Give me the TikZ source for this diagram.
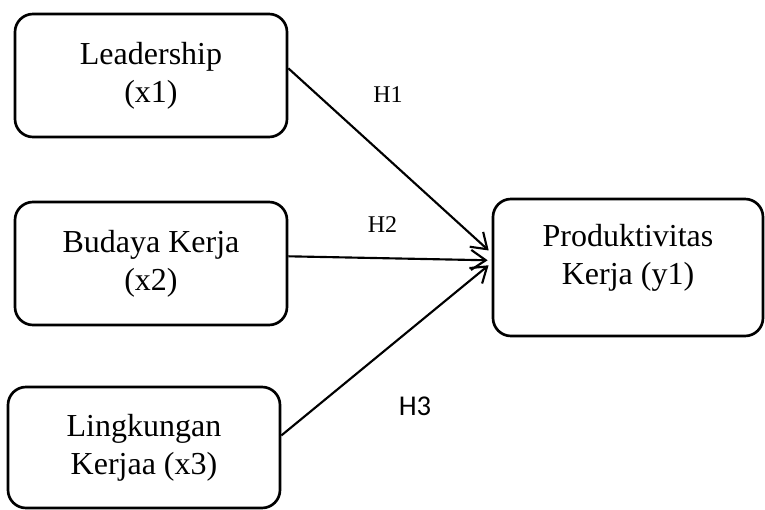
\documentclass[tikz,border=0pt]{standalone}
\usepackage{fontspec}
\setmainfont{Liberation Serif}
\newfontfamily\calibrifont{Carlito}
\usetikzlibrary{arrows.meta,positioning,calc}
\tikzset{
  varbox/.style = {draw, line width=2pt, rectangle, rounded corners=13.5pt,
                   minimum width=204pt, align=center,
                   font=\fontsize{24}{28.5}\selectfont},
  sig/.style    = {-{Straight Barb[length=11pt,width=15pt]}, line width=1.6pt,
                   shorten >=3pt},
  hyp/.style    = {font=\fontsize{18}{20}\selectfont},
}

\begin{document}
\begin{tikzpicture}[x=0.75pt,y=-0.75pt]
\useasboundingbox (0,0) rectangle (765,510);
% ---- independent variables ----
\node[varbox, minimum height=92.25pt] (lead) at (151,75.5) {Leadership\\(x1)};
\node[varbox, minimum height=92.25pt] (budaya) at (151,263.5) {Budaya Kerja\\(x2)};
\node[varbox, minimum height=90.75pt] (lingk) at (144,447.5) {Lingkungan\\Kerjaa (x3)};
% ---- dependent variable ----
\node[varbox, minimum width=202.5pt, minimum height=102.75pt] (prod) at (628,267.5)
  {Produktivitas\\Kerja (y1)\rule[-20pt]{0pt}{0pt}};

% ---- hypotheses ----
\draw[sig] (lead.3) -- (prod.174);
\draw[sig] (budaya.3) -- (prod.177);
\draw[sig] (lingk.5) -- (prod.178);
\node[hyp] (h1) at (388,95) {H1};
\node[hyp] (h2) at (382.5,225) {H2};
\node[font=\calibrifont\fontsize{21.5}{24}\selectfont] (h3) at (415,406) {H3};
\end{tikzpicture}
\end{document}
